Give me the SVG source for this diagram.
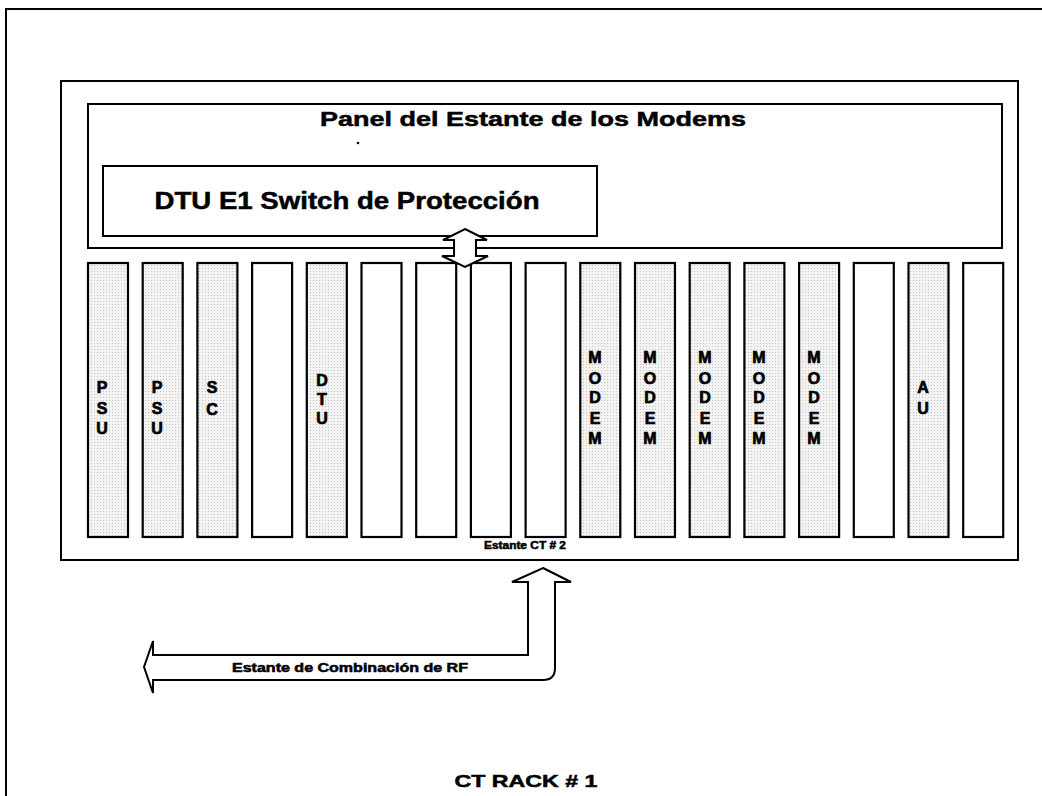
<svg xmlns="http://www.w3.org/2000/svg" width="1042" height="796" viewBox="0 0 1042 796">
<style>
.ln{fill:none;stroke:#000;stroke-width:2}
.box{fill:#fff;stroke:#000;stroke-width:2}
.slot{stroke:#000;stroke-width:2.2}
.sh{fill:url(#dots)}
.wh{fill:#fff}
.t{font-family:"Liberation Sans",Arial,sans-serif;font-weight:bold;fill:#000;stroke:#000;stroke-width:0.5}
.lt{font-family:"Liberation Sans",Arial,sans-serif;font-weight:bold;font-size:16px;fill:#000;stroke:#000;stroke-width:0.7;text-anchor:middle}
</style>
<defs>
<pattern id="dots" width="3" height="3" patternUnits="userSpaceOnUse">
<rect width="3" height="3" fill="#f3f3f3"/>
<rect x="1" y="1" width="1" height="1" fill="#c4c4c4"/>
</pattern>
</defs>
<rect x="0" y="0" width="1042" height="796" fill="#fff"/>
<g id="outer-frame"><rect class="ln" x="6" y="9" width="1060" height="820"/></g>
<g id="rack"><rect class="box" x="61" y="81" width="957" height="479"/>
<text class="t" x="525" y="549" font-size="10" text-anchor="middle" textLength="82" lengthAdjust="spacingAndGlyphs">Estante CT # 2</text></g>
<g id="panel"><rect class="box" x="88" y="104" width="914" height="144"/>
<text class="t" x="533" y="126" font-size="21" text-anchor="middle" textLength="426" lengthAdjust="spacingAndGlyphs">Panel del Estante de los Modems</text>
<circle cx="358" cy="143" r="1.3" fill="#000"/></g>
<g id="dtu-switch"><rect class="box" x="103" y="166" width="494" height="70"/>
<text class="t" x="347" y="209" font-size="24" text-anchor="middle" textLength="385" lengthAdjust="spacingAndGlyphs">DTU E1 Switch de Protección</text></g>
<g id="slot-psu1"><rect class="slot sh" x="88" y="263" width="40" height="274"/><text class="lt"><tspan x="102" y="393">P</tspan><tspan x="102" y="414">S</tspan><tspan x="102" y="434">U</tspan></text></g>
<g id="slot-psu2"><rect class="slot sh" x="142.7" y="263" width="40" height="274"/><text class="lt"><tspan x="157" y="393">P</tspan><tspan x="157" y="414">S</tspan><tspan x="157" y="434">U</tspan></text></g>
<g id="slot-sc"><rect class="slot sh" x="197.4" y="263" width="40" height="274"/><text class="lt"><tspan x="212" y="393">S</tspan><tspan x="212" y="415">C</tspan></text></g>
<g id="slot-4"><rect class="slot wh" x="252.1" y="263" width="40" height="274"/></g>
<g id="slot-dtu"><rect class="slot sh" x="306.8" y="263" width="40" height="274"/><text class="lt"><tspan x="322" y="386">D</tspan><tspan x="322" y="405">T</tspan><tspan x="322" y="424">U</tspan></text></g>
<g id="slot-6"><rect class="slot wh" x="361.5" y="263" width="40" height="274"/></g>
<g id="slot-7"><rect class="slot wh" x="416.2" y="263" width="40" height="274"/></g>
<g id="slot-8"><rect class="slot wh" x="470.9" y="263" width="40" height="274"/></g>
<g id="slot-9"><rect class="slot wh" x="525.6" y="263" width="40" height="274"/></g>
<g id="slot-modem1"><rect class="slot sh" x="580.3" y="263" width="40" height="274"/><text class="lt"><tspan x="595" y="363">M</tspan><tspan x="595" y="384">O</tspan><tspan x="595" y="403">D</tspan><tspan x="595" y="424">E</tspan><tspan x="595" y="444">M</tspan></text></g>
<g id="slot-modem2"><rect class="slot sh" x="635" y="263" width="40" height="274"/><text class="lt"><tspan x="650" y="363">M</tspan><tspan x="650" y="384">O</tspan><tspan x="650" y="403">D</tspan><tspan x="650" y="424">E</tspan><tspan x="650" y="444">M</tspan></text></g>
<g id="slot-modem3"><rect class="slot sh" x="689.7" y="263" width="40" height="274"/><text class="lt"><tspan x="705" y="363">M</tspan><tspan x="705" y="384">O</tspan><tspan x="705" y="403">D</tspan><tspan x="705" y="424">E</tspan><tspan x="705" y="444">M</tspan></text></g>
<g id="slot-modem4"><rect class="slot sh" x="744.4" y="263" width="40" height="274"/><text class="lt"><tspan x="759" y="363">M</tspan><tspan x="759" y="384">O</tspan><tspan x="759" y="403">D</tspan><tspan x="759" y="424">E</tspan><tspan x="759" y="444">M</tspan></text></g>
<g id="slot-modem5"><rect class="slot sh" x="799.1" y="263" width="40" height="274"/><text class="lt"><tspan x="814" y="363">M</tspan><tspan x="814" y="384">O</tspan><tspan x="814" y="403">D</tspan><tspan x="814" y="424">E</tspan><tspan x="814" y="444">M</tspan></text></g>
<g id="slot-15"><rect class="slot wh" x="853.8" y="263" width="40" height="274"/></g>
<g id="slot-au"><rect class="slot sh" x="908.5" y="263" width="40" height="274"/><text class="lt"><tspan x="923" y="393">A</tspan><tspan x="923" y="414">U</tspan></text></g>
<g id="slot-17"><rect class="slot wh" x="963.2" y="263" width="40" height="274"/></g>
<g id="connectors">
<path class="box" d="M465,229 L487,240 L476,240 L476,256 L488,256 L465,267 L442,256 L454,256 L454,240 L443,240 Z"/>
<path class="box" d="M543,568 L571,582 L555,582 L555,668 Q555,680 543,680 L153,680 L153,693 L144,667 L153,641 L153,655 L528,655 L528,582 L512,582 Z"/>
<text class="t" x="350" y="672" font-size="12" text-anchor="middle" textLength="236" lengthAdjust="spacingAndGlyphs">Estante de Combinación de RF</text>
</g>
<g id="caption"><text class="t" x="526" y="787" font-size="17" text-anchor="middle" textLength="143" lengthAdjust="spacingAndGlyphs">CT RACK # 1</text></g>
</svg>
